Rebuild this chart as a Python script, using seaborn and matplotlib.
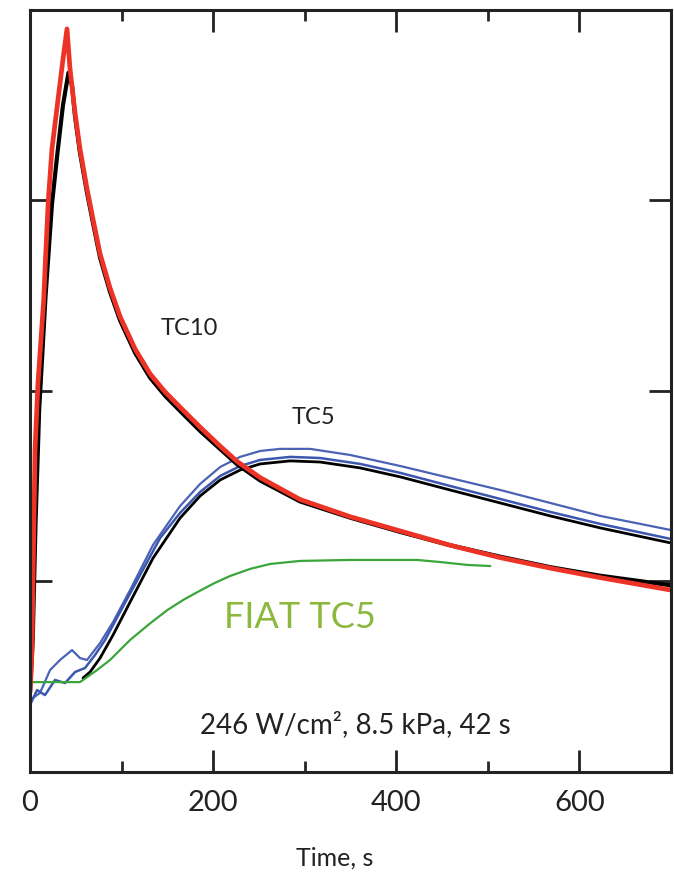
import pandas as pd
import numpy as np
import seaborn as sns
import matplotlib.pyplot as plt

# ---- TC10 measured (red) ----
tc10_t = [0, 1, 2.2, 3.3, 5.5, 8.7, 15, 17, 20, 24, 30.6, 36, 40.4, 43.7, 49.2, 54.6, 62.3, 68.9, 76.5, 87.4, 98.4,
          114.8, 131.1, 147.5, 163.9, 185.8, 207.7, 226.2, 251.4, 295.1, 349.7, 404.4, 459.0, 513.7, 568.3, 623.0, 700]
tc10_meas = [0.42, 0.5, 0.64, 1.01, 1.69, 2.04, 2.48, 2.7, 3.0, 3.27, 3.53, 3.74, 3.9, 3.69, 3.46, 3.27, 3.06, 2.90, 2.72, 2.54, 2.39,
             2.22, 2.09, 1.995, 1.915, 1.81, 1.71, 1.63, 1.545, 1.43, 1.34, 1.265, 1.19, 1.125, 1.07, 1.02, 0.955]

# ---- TC10 model (black) ----
tc10_model_t = [0, 3, 6, 10, 17, 24, 30, 36, 42, 46, 49.2, 54.6, 62.3, 68.9, 76.5, 87.4, 98.4,
                114.8, 131.1, 147.5, 163.9, 185.8, 207.7, 226.2, 251.4, 295.1, 349.7, 404.4, 459.0, 513.7, 568.3, 623.0, 700]
tc10_model = [0.42, 0.7, 1.3, 1.9, 2.5, 2.98, 3.25, 3.5, 3.67, 3.6, 3.44, 3.25, 3.04, 2.88, 2.70, 2.52, 2.37,
              2.20, 2.07, 1.975, 1.895, 1.79, 1.695, 1.615, 1.53, 1.42, 1.335, 1.26, 1.19, 1.13, 1.075, 1.03, 0.98]

# ---- TC5 measured, two runs (blue) ----
tc5_a_t = [0, 10.9, 21.9, 32.8, 45.9, 54.6, 62.3, 76.5, 90.7, 109.3, 134.4, 163.9, 185.8, 207.7, 229.5, 251.4,
           273.2, 306, 349.7, 404.4, 459, 513.7, 568.3, 623, 700]
tc5_a = [0.378, 0.415, 0.535, 0.588, 0.640, 0.598, 0.588, 0.677, 0.787, 0.955, 1.192, 1.396, 1.512, 1.601, 1.654, 1.685,
         1.696, 1.696, 1.664, 1.606, 1.543, 1.480, 1.412, 1.344, 1.270]
tc5_b_t = [0, 7.7, 16.4, 27.3, 38.3, 49.2, 60.1, 71, 82, 98.4, 120.2, 142.1, 163.9, 185.8, 207.7, 229.5, 251.4,
           284.2, 316.9, 360.7, 404.4, 459, 513.7, 568.3, 623, 700]
tc5_b = [0.352, 0.430, 0.404, 0.483, 0.467, 0.525, 0.546, 0.614, 0.693, 0.840, 1.034, 1.228, 1.360, 1.470, 1.554, 1.606, 1.638,
         1.654, 1.648, 1.617, 1.570, 1.501, 1.433, 1.365, 1.302, 1.223]

# ---- TC5 model (black) ----
tc5_model_t = [57.9, 65.6, 76.5, 90.7, 109.3, 134.4, 163.9, 185.8, 207.7, 229.5, 251.4, 284.2, 316.9, 360.7,
               404.4, 459.0, 513.7, 568.3, 623.0, 700]
tc5_model = [0.493, 0.525, 0.598, 0.719, 0.892, 1.123, 1.333, 1.449, 1.533, 1.585, 1.617, 1.633, 1.627, 1.596,
             1.549, 1.480, 1.412, 1.344, 1.281, 1.202]

# ---- FIAT TC5 (green) ----
fiat_t = [0, 30, 54.6, 73.2, 87.4, 109.3, 131.1, 150.0, 168.0, 185.8, 202.0, 218.6, 240.4, 262.3, 295.1, 349.7, 423.0, 448.1, 477.6, 502.7]
fiat = [0.472, 0.472, 0.472, 0.535, 0.588, 0.693, 0.780, 0.850, 0.905, 0.952, 0.993, 1.029, 1.066, 1.092, 1.108, 1.113, 1.113, 1.102, 1.087, 1.081]

xticks = [0, 200, 400, 600]
xminor = [100, 300, 500]
yticks = [1, 2, 3]

sns.set_style("ticks")
plt.rcParams['font.family'] = ['Lato', 'DejaVu Sans']

fig = plt.figure(figsize=(6.74, 8.76), dpi=100)
ax = fig.add_axes([0.0445, 0.1187, 0.951, 0.870])

sns.lineplot(x=tc5_a_t, y=tc5_a, color='#4a63b5', lw=1.6, ax=ax, sort=False)
sns.lineplot(x=tc5_b_t, y=tc5_b, color='#3b57b0', lw=1.8, ax=ax, sort=False)
sns.lineplot(x=tc5_model_t, y=tc5_model, color='black', lw=2.0, ax=ax, sort=False)
sns.lineplot(x=fiat_t, y=fiat, color='#3aa63a', lw=1.6, ax=ax, sort=False)
sns.lineplot(x=tc10_model_t, y=tc10_model, color='black', lw=3.0, ax=ax, sort=False)
sns.lineplot(x=tc10_t, y=tc10_meas, color='#ec3326', lw=3.4, ax=ax, sort=False)

ax.text(174, 2.33, 'TC10', fontsize=17, ha='center', va='center', color='#222222')
ax.text(310, 1.86, 'TC5', fontsize=17, ha='center', va='center', color='#222222')
ax.text(295, 0.81, 'FIAT TC5', fontsize=26, ha='center', va='center', color='#8db83e')
ax.text(355, 0.25, '246 W/cm², 8.5 kPa, 42 s', fontsize=20, ha='center', va='center', color='#222222')

ax.set_xlim(0, 700)
ax.set_ylim(0, 4)
ax.set_xticks(xticks)
ax.set_xticks(xminor, minor=True)
ax.set_yticks(yticks)
ax.set_yticklabels([])
ax.tick_params(which='major', direction='in', length=16, width=2, top=True, right=True,
               labelsize=21, pad=13, colors='#222222')
ax.tick_params(which='minor', direction='in', length=8, width=2, top=True, right=True)
for s in ax.spines.values():
    s.set_linewidth(2.2)
    s.set_color('#222222')
ax.set_xlabel('')
ax.set_ylabel('')
fig.text(335 / 674, 1 - 858 / 876, 'Time, s', fontsize=18, ha='center', va='center', color='#222222')

plt.savefig('out.png', dpi=100)
